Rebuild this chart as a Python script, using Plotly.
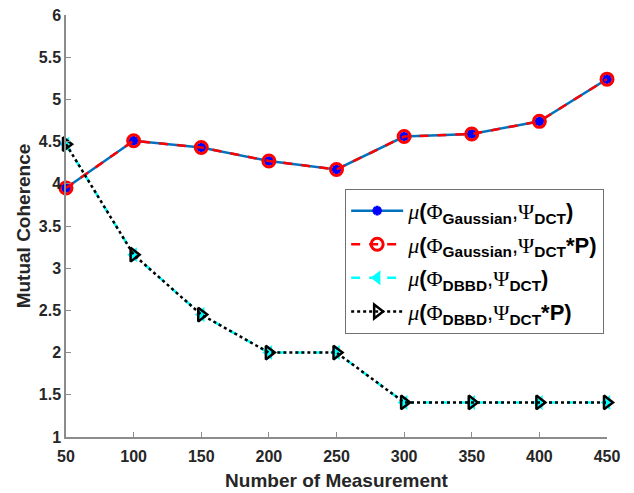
import plotly.graph_objects as go

measurements = [50, 100, 150, 200, 250, 300, 350, 400, 450]
gauss_dct = [3.95, 4.51, 4.43, 4.27, 4.17, 4.56, 4.59, 4.74, 5.24]
gauss_dct_p = [3.95, 4.51, 4.43, 4.27, 4.17, 4.56, 4.59, 4.74, 5.24]
dbbd_dct = [4.47, 3.16, 2.45, 2.00, 2.00, 1.41, 1.41, 1.41, 1.41]
dbbd_dct_p = [4.47, 3.16, 2.45, 2.00, 2.00, 1.41, 1.41, 1.41, 1.41]
x_ticks = [50, 100, 150, 200, 250, 300, 350, 400, 450]
y_ticks = [1, 1.5, 2, 2.5, 3, 3.5, 4, 4.5, 5, 5.5, 6]
y_tick_labels = ["1", "1.5", "2", "2.5", "3", "3.5", "4", "4.5", "5", "5.5", "6"]

G = "<span style='font-family:Liberation Serif'><i>μ</i></span>"
PHI = "<span style='font-family:Liberation Serif'>Φ</span>"
PSI = "<span style='font-family:Liberation Serif'>Ψ</span>"
names = [
    f"{G}<b>(</b>{PHI}<sub><b>Gaussian</b></sub>,{PSI}<sub><b>DCT</b></sub><b>)</b>",
    f"{G}<b>(</b>{PHI}<sub><b>Gaussian</b></sub>,{PSI}<sub><b>DCT</b></sub><b>*P)</b>",
    f"{G}<b>(</b>{PHI}<sub><b>DBBD</b></sub>,{PSI}<sub><b>DCT</b></sub><b>)</b>",
    f"{G}<b>(</b>{PHI}<sub><b>DBBD</b></sub>,{PSI}<sub><b>DCT</b></sub><b>*P)</b>",
]

fig = go.Figure()
fig.add_trace(go.Scatter(
    x=measurements, y=gauss_dct, name=names[0], mode="lines+markers", legendgroup="a",
    line=dict(color="#0072BD", width=2.5),
    marker=dict(symbol="asterisk-open", size=8, color="blue", line=dict(color="blue", width=3)),
    cliponaxis=False))
fig.add_trace(go.Scatter(
    x=measurements, y=gauss_dct_p, name=names[1], mode="lines+markers", legendgroup="b",
    line=dict(color="red", width=2.5, dash="dash"),
    marker=dict(symbol="circle-open", size=12, color="red", line=dict(color="red", width=3)),
    cliponaxis=False))
fig.add_trace(go.Scatter(
    x=measurements, y=dbbd_dct, name=names[2], mode="lines+markers", legendgroup="c",
    line=dict(color="cyan", width=2.5, dash="dash"),
    marker=dict(symbol="triangle-left", size=13, color="cyan"),
    cliponaxis=False))
fig.add_trace(go.Scatter(
    x=measurements, y=dbbd_dct_p, name=names[3], mode="lines+markers", legendgroup="d",
    line=dict(color="black", width=2.5, dash="dot"),
    marker=dict(symbol="triangle-right-open", size=12, color="black", line=dict(color="black", width=2.5)),
    cliponaxis=False))

fig.update_layout(
    width=634, height=493,
    margin=dict(l=58, r=35, t=7, b=64, autoexpand=False),
    paper_bgcolor="white", plot_bgcolor="white",
    font=dict(family="Liberation Sans, Arial, sans-serif", color="#262626"),
    showlegend=True,
    legend=dict(
        x=0.516, y=0.588, xanchor="left", yanchor="top",
        bgcolor="white", bordercolor="#707070", borderwidth=1,
        font=dict(family="Liberation Sans, Arial, sans-serif", size=22, color="black"),
        itemwidth=52, tracegroupgap=2,
    ),
    xaxis=dict(
        range=[50, 450], tickvals=x_ticks, ticktext=[f"<b>{v}</b>" for v in x_ticks],
        showline=True, linecolor="#8c8c8c", linewidth=1.5,
        ticks="inside", ticklen=5, tickcolor="#8c8c8c", automargin=False,
        showgrid=False, zeroline=False, ticklabeloverflow="allow", ticklabelstandoff=4,
        tickfont=dict(family="Liberation Sans, Arial, sans-serif", size=16, color="#262626"),
        title=dict(text="<b>Number of Measurement</b>", font=dict(size=19, color="#262626"), standoff=10),
    ),
    yaxis=dict(
        range=[1, 6], tickvals=y_ticks, ticktext=[f"<b>{t}</b>" for t in y_tick_labels],
        showline=True, linecolor="#8c8c8c", linewidth=1.5,
        ticks="inside", ticklen=5, tickcolor="#8c8c8c", automargin=False,
        showgrid=False, zeroline=False, ticklabeloverflow="allow",
        tickfont=dict(family="Liberation Sans, Arial, sans-serif", size=16, color="#262626"),
        title=dict(text="<b>Mutual Coherence</b>", font=dict(size=19, color="#262626"), standoff=3),
    ),
)

fig.write_html("out.html")
